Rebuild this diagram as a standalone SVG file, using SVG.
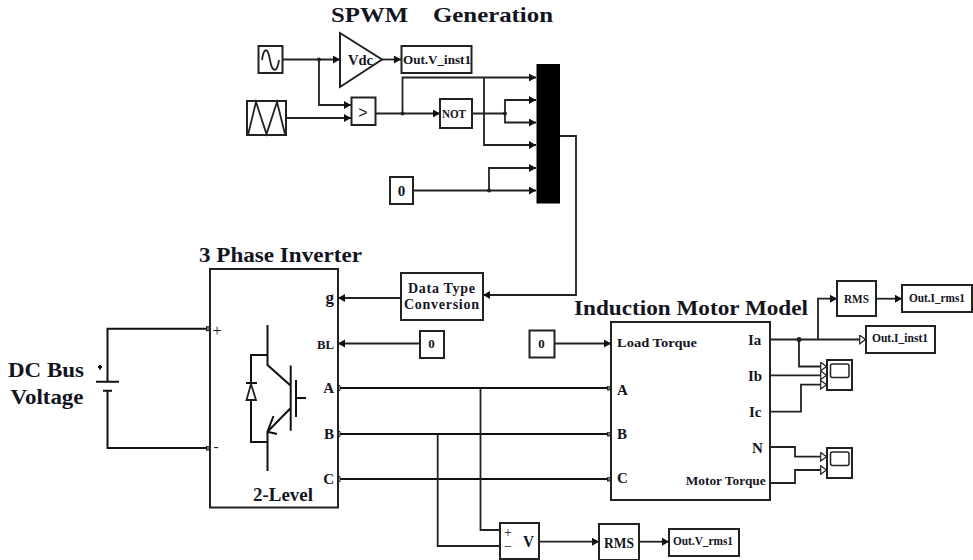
<svg xmlns="http://www.w3.org/2000/svg" width="973" height="560" viewBox="0 0 973 560">
<style>
text{font-family:"Liberation Serif","Times New Roman",serif;font-weight:bold;fill:#14141e}
.t{font-size:21px}
.l{font-size:15px}
.s{font-size:13px}
.n{fill:#fff;stroke:#222;stroke-width:2}
.w{fill:none;stroke:#222;stroke-width:1.800;stroke-linejoin:miter}
.k{fill:none;stroke:#111;stroke-width:2}
.a{marker-end:url(#ar)}
.h{marker-end:url(#ho)}
.p{marker-end:url(#po)}
.d{fill:#222;stroke:none}
</style>
<defs>
<marker id="ar" markerUnits="userSpaceOnUse" markerWidth="9" markerHeight="9" refX="7" refY="4" orient="auto"><path d="M0 0L7 4L0 8Z" fill="#111"/></marker>
<marker id="ho" markerUnits="userSpaceOnUse" markerWidth="10" markerHeight="11" refX="7" refY="5" orient="auto"><path d="M0.7 0.7L6.500 5L0.7 9.300Z" fill="#fff" stroke="#222" stroke-width="1.200"/></marker>
<marker id="po" markerUnits="userSpaceOnUse" markerWidth="6" markerHeight="6" refX="4" refY="2.500" orient="auto"><rect x="0.5" y="0.5" width="3.500" height="4" fill="#777" stroke="#222"/></marker>
</defs>

<g id="connectors">
<path class="w a" d="M282 59.500H340"/>
<path class="w a" d="M319 59.500V105H351"/>
<path class="w a" d="M286 118H351"/>
<path class="w a" d="M382 59.500H401"/>
<path class="w a" d="M375 113.500H440"/>
<path class="w a" d="M402.500 113.500V77.500H536"/>
<path class="w" d="M472 113.500H505"/>
<path class="w a" d="M505 113.500V100H536"/>
<path class="w a" d="M505 113.500V122.500H536"/>
<path class="w a" d="M484 77.500V145H536"/>
<path class="w a" d="M413 190.500H536"/>
<path class="w a" d="M489 190.500V168H536"/>
<path class="w a" d="M560 136H576V295H483"/>
<path class="w a" d="M401 298H338"/>
<path class="w a" d="M420 343.500H338"/>
<path class="w a" d="M554 343.500H611"/>
<path class="k p" d="M107.500 381V328.700H210"/>
<path class="k p" d="M107.500 391V448H210"/>
<path class="k p" d="M340 388H611"/>
<path class="k p" d="M340 434H611"/>
<path class="k p" d="M340 479H611"/>
<path d="M336.500 385.500h3.500v5h-3.500zM336.500 431.500h3.500v5h-3.500zM336.500 476.500h3.500v5h-3.500z" fill="#fff" stroke="#222"/>
<path class="w" d="M480.500 388V530H500"/>
<path class="w" d="M437.700 434V546H500"/>
<path class="w a" d="M539 541.700H599"/>
<path class="w a" d="M639 541.700H669"/>
<path class="w h" d="M770 339.500H866"/>
<path class="w a" d="M818 339.500V298.700H837"/>
<path class="w a" d="M876 298.700H902"/>
<path class="w h" d="M799 339.500V366.500H827"/>
<path class="w h" d="M770 375.300H827"/>
<path class="w h" d="M770 411.700H801V384.700H827"/>
<path class="w h" d="M770 447H795V456.700H827"/>
<path class="w h" d="M770 483H795V470H827"/>
<circle class="d" cx="319" cy="59.500" r="2"/>
<circle class="d" cx="402.500" cy="113.500" r="2"/>
<circle class="d" cx="505" cy="113.500" r="2"/>
<circle class="d" cx="489" cy="190.500" r="2"/>
<circle class="d" cx="799" cy="339.500" r="2.500"/>
</g>

<g id="title-spwm">
<text class="t" x="331" y="22" textLength="77" lengthAdjust="spacingAndGlyphs">SPWM</text>
<text class="t" x="433" y="22" textLength="120" lengthAdjust="spacingAndGlyphs">Generation</text>
</g>
<g id="sine"><rect class="n" x="258.500" y="46" width="24" height="27"/><path class="w" d="M262 60C264 46 268 48 270 60S277 74 279 60"/></g>
<g id="triangle"><rect class="n" x="247" y="101" width="39" height="34"/><path class="w" d="M248 135L256 102L266.500 134L277 102L285 134"/></g>
<g id="gain"><path class="n" d="M340 33L382 59.500L340 87Z"/><text class="l" x="348" y="65" textLength="25" lengthAdjust="spacingAndGlyphs">Vdc</text></g>
<g id="out-v-inst"><rect class="n" x="401.500" y="46" width="70" height="27"/><text class="s" x="403" y="64" textLength="68" lengthAdjust="spacingAndGlyphs">Out.V_inst1</text></g>
<g id="compare"><rect class="n" x="351.500" y="97.500" width="24" height="27.500"/><text x="363" y="118" text-anchor="middle" style="font-family:'Liberation Sans',sans-serif;font-weight:normal;font-size:16px">&gt;</text></g>
<g id="not"><rect class="n" x="440" y="99" width="32" height="29"/><text class="s" x="442" y="118" textLength="24" lengthAdjust="spacingAndGlyphs">NOT</text></g>
<g id="mux"><rect x="536.500" y="64" width="23.500" height="139.500" fill="#000"/></g>
<g id="zero-1"><rect class="n" x="390" y="177" width="23" height="27"/><text class="l" x="401.500" y="196" text-anchor="middle">0</text></g>

<g id="dc-source">
<text class="t" x="46" y="377" text-anchor="middle" textLength="76" lengthAdjust="spacingAndGlyphs">DC Bus</text>
<text class="t" x="47" y="404" text-anchor="middle" textLength="73" lengthAdjust="spacingAndGlyphs">Voltage</text>
<path class="k" d="M96 381.700H119M103 390.700H112"/>
<path class="k" d="M100 365V369.500M98 367H102"/>
</g>

<g id="inverter">
<text class="t" x="199" y="262" textLength="163" lengthAdjust="spacingAndGlyphs">3 Phase Inverter</text>
<rect class="n" x="210" y="269" width="128" height="238.500"/>
<path class="k" d="M267.500 325V365L290.500 385.500M290.700 365.500V430.700M296 380V417M296 398H306M290.700 408L267.500 431.700V471M267.500 431.700L273.500 416M267.500 431.700L277 434"/>
<path class="k" d="M267.500 355H251V442H267.500"/>
<path class="n" d="M251 384L246.500 400H256L251 384Z" style="stroke-width:1.800"/>
<path class="k" d="M246 383H257"/>
<text x="217" y="336" text-anchor="middle" style="font-size:16px;font-weight:normal">+</text>
<text x="216" y="451" text-anchor="middle" style="font-size:15px;font-weight:normal">-</text>
<text class="l" x="334" y="302.500" text-anchor="end" style="font-size:17px">g</text>
<text class="s" x="334" y="349" text-anchor="end" textLength="17" lengthAdjust="spacingAndGlyphs">BL</text>
<text class="l" x="334" y="393" text-anchor="end">A</text>
<text class="l" x="334" y="439" text-anchor="end">B</text>
<text class="l" x="334" y="484" text-anchor="end">C</text>
<text class="l" x="253" y="501" textLength="60" lengthAdjust="spacingAndGlyphs" style="font-size:18px">2-Level</text>
</g>
<g id="data-type"><rect class="n" x="401" y="273" width="82" height="47"/>
<text class="l" x="408" y="292.700" textLength="67" lengthAdjust="spacing" style="font-size:14px">Data Type</text>
<text class="l" x="404" y="308.700" textLength="75" lengthAdjust="spacing" style="font-size:14px">Conversion</text></g>
<g id="zero-2"><rect class="n" x="420" y="331" width="24" height="27"/><text class="s" x="431.500" y="348" text-anchor="middle">0</text></g>
<g id="zero-3"><rect class="n" x="529.500" y="330.500" width="25" height="27"/><text class="s" x="541.500" y="348" text-anchor="middle">0</text></g>

<g id="motor">
<text class="t" x="574" y="315" textLength="234" lengthAdjust="spacingAndGlyphs">Induction Motor Model</text>
<rect class="n" x="611" y="322" width="159" height="178"/>
<text class="s" x="617" y="347" textLength="80" lengthAdjust="spacingAndGlyphs">Load Torque</text>
<text class="l" x="617" y="395">A</text>
<text class="l" x="617" y="438.500">B</text>
<text class="l" x="617" y="483">C</text>
<text class="l" x="748" y="345">Ia</text>
<text class="l" x="748" y="381">Ib</text>
<text class="l" x="749" y="416.700">Ic</text>
<text class="l" x="752" y="452.700">N</text>
<text class="s" x="685.700" y="485" textLength="80" lengthAdjust="spacingAndGlyphs">Motor Torque</text>
</g>
<g id="rms-i"><rect class="n" x="837" y="281" width="39" height="35"/><text class="s" x="844" y="303" textLength="25" lengthAdjust="spacingAndGlyphs">RMS</text></g>
<g id="out-i-rms"><rect class="n" x="902" y="285" width="70" height="27"/><text class="s" x="909" y="302" textLength="56" lengthAdjust="spacingAndGlyphs">Out.I_rms1</text></g>
<g id="out-i-inst"><rect class="n" x="866" y="326" width="69" height="27"/><text class="s" x="872" y="342" textLength="56" lengthAdjust="spacingAndGlyphs">Out.I_inst1</text></g>
<g id="scope-1"><rect class="n" x="827" y="360" width="25" height="30"/><rect x="830.500" y="364" width="18.500" height="13.500" rx="2" fill="#fff" stroke="#222" stroke-width="1.500"/></g>
<g id="scope-2"><rect class="n" x="827" y="448" width="25" height="30"/><rect x="830.500" y="452" width="18.500" height="13.500" rx="2" fill="#fff" stroke="#222" stroke-width="1.500"/></g>
<g id="voltmeter"><rect class="n" x="500" y="523" width="39" height="36"/>
<text x="508" y="537" text-anchor="middle" style="font-size:14px;font-weight:normal">+</text>
<text x="508" y="551" text-anchor="middle" style="font-size:14px;font-weight:normal">−</text>
<text class="l" x="523" y="547" textLength="11" lengthAdjust="spacingAndGlyphs" style="font-size:17px">V</text></g>
<g id="rms-v"><rect class="n" x="599" y="524" width="40" height="36"/><text class="s" x="604" y="548" textLength="30" lengthAdjust="spacingAndGlyphs" style="font-size:14px">RMS</text></g>
<g id="out-v-rms"><rect class="n" x="669" y="529" width="70" height="27"/><text class="s" x="673" y="545" textLength="60" lengthAdjust="spacingAndGlyphs">Out.V_rms1</text></g>
</svg>
